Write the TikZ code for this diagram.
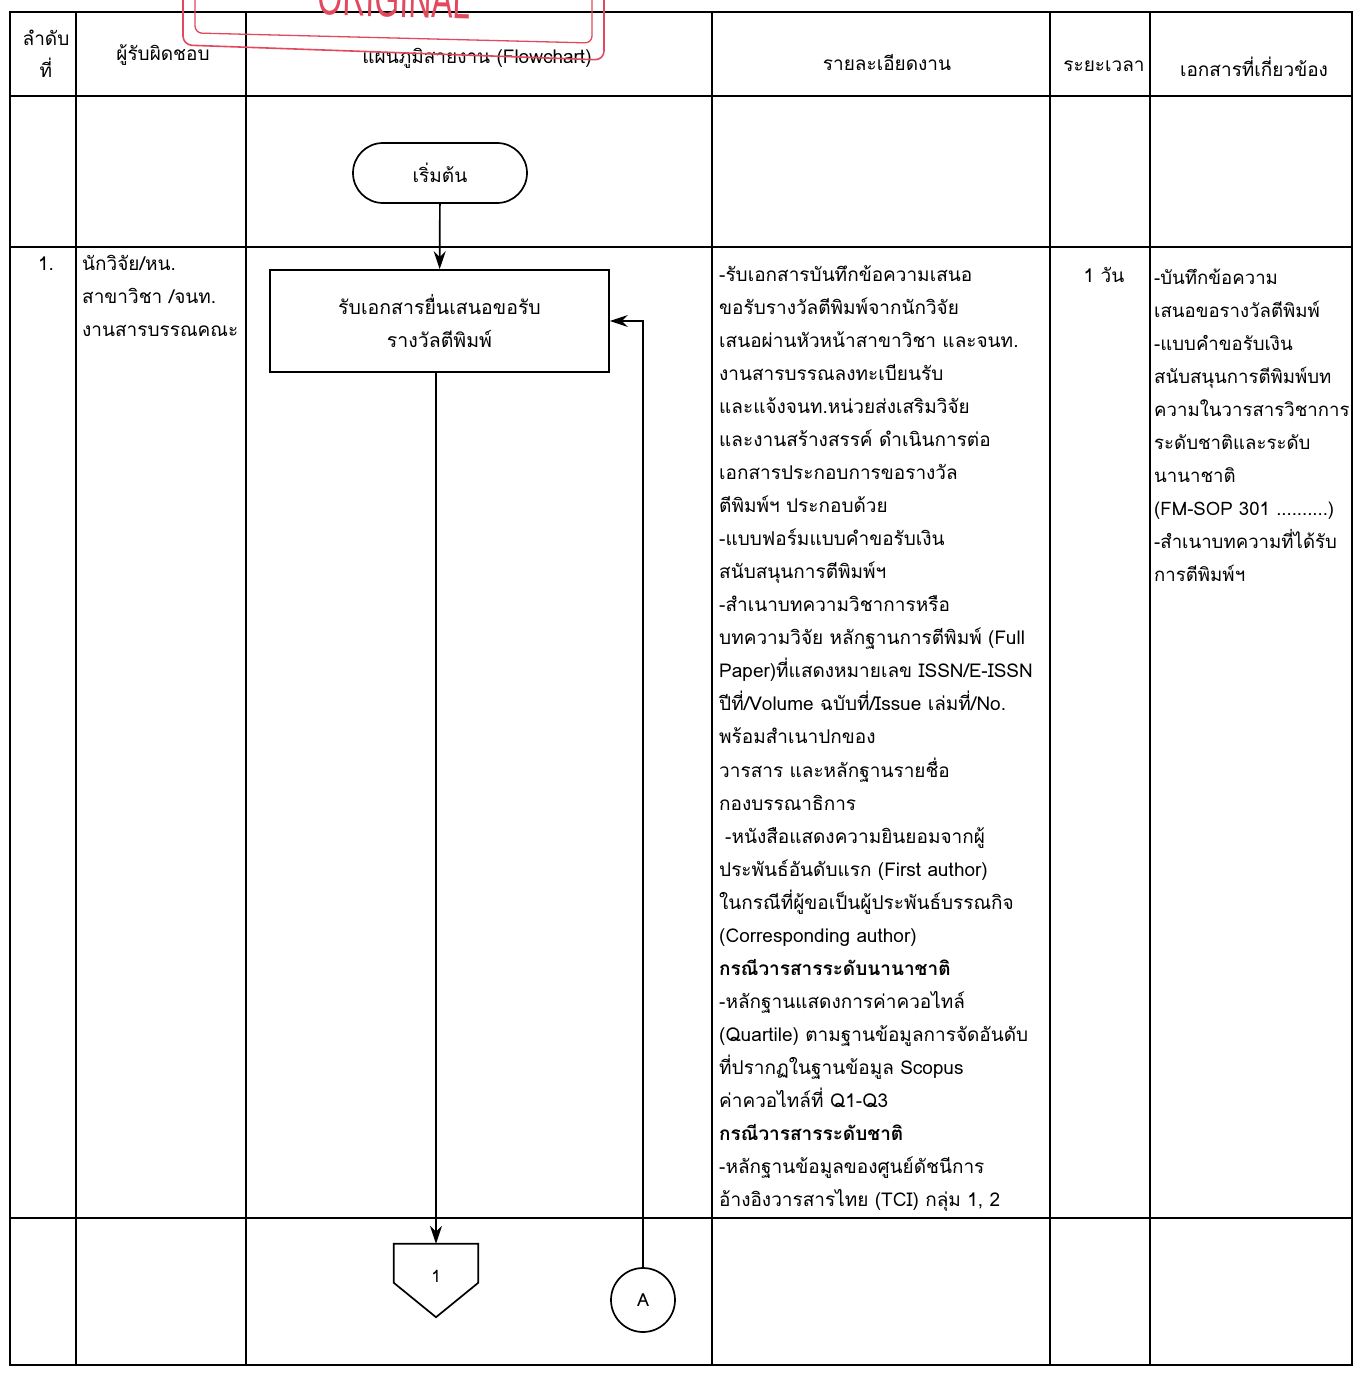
\documentclass[tikz,border=0pt]{standalone}
\usepackage{fontspec}
\newfontfamily\thai[Script=Thai]{Loma}
\newfontfamily\stampfont{Liberation Sans}
\usetikzlibrary{arrows.meta,shapes.misc,calc}
\definecolor{stampred}{RGB}{226,72,94}
\newcommand\fmsopref{(FM-SOP 301 ..........)}
\begin{document}
\begin{tikzpicture}[x=1pt,y=-1pt,
  grid/.style={line width=1.9pt},
  txt/.style={font=\thai\fontsize{19}{33}\selectfont, inner sep=0pt},
  doctxt/.style={font=\thai\fontsize{18.6}{33}\selectfont, inner sep=0pt},
  flow/.style={draw, line width=1.7pt, txt},
  conn/.style={line width=1.7pt, -{Stealth[length=18pt,width=12pt]}},
  stampline/.style={draw=stampred, line width=1.6pt},
]
\useasboundingbox (0,0) rectangle (1362,1378);
\fill[white] (0,0) rectangle (1362,1378);

% table grid
\draw[grid] (10,12) rectangle (1352,1365);
\foreach \x in {76,246,712,1050,1150} \draw[grid] (\x,12) -- (\x,1365);
\foreach \y in {96,247,1218} \draw[grid] (10,\y) -- (1352,\y);

% header
\node[txt] (h1a) at (46,38) {ลำดับ};
\node[txt] (h1b) at (46,68) {ที่};
\node[txt] (h2) at (163,55) {ผู้รับผิดชอบ};
\node[txt] (h3) at (477,58) {แผนภูมิสายงาน (Flowchart)};
\node[txt] (h4) at (887,63) {รายละเอียดงาน};
\node[txt] (h5) at (1104,66) {ระยะเวลา};
\node[txt] (h6) at (1254,67) {เอกสารที่เกี่ยวข้อง};

% row 1 left columns
\node[txt, anchor=base] (n1) at (46,270) {1.};
\node[txt, anchor=base west] (r1) at (82,270) {นักวิจัย/หน.};
\node[txt, anchor=base west] (r2) at (82,303) {สาขาวิชา /จนท.};
\node[txt, anchor=base west] (r3) at (82,336) {งานสารบรรณคณะ};

% details
\foreach \t [count=\i] in {
 {-รับเอกสารบันทึกข้อความเสนอ},
 {ขอรับรางวัลตีพิมพ์จากนักวิจัย},
 {เสนอผ่านหัวหน้าสาขาวิชา และจนท.},
 {งานสารบรรณลงทะเบียนรับ},
 {และแจ้งจนท.หน่วยส่งเสริมวิจัย},
 {และงานสร้างสรรค์ ดำเนินการต่อ},
 {เอกสารประกอบการขอรางวัล},
 {ตีพิมพ์ฯ ประกอบด้วย},
 {-แบบฟอร์มแบบคำขอรับเงิน},
 {สนับสนุนการตีพิมพ์ฯ},
 {-สำเนาบทความวิชาการหรือ},
 {บทความวิจัย หลักฐานการตีพิมพ์ (Full},
 {Paper)ที่แสดงหมายเลข ISSN/E-ISSN},
 {ปีที่/Volume ฉบับที่/Issue เล่มที่/No.},
 {พร้อมสำเนาปกของ},
 {วารสาร และหลักฐานรายชื่อ},
 {กองบรรณาธิการ},
 {\hspace*{6pt}-หนังสือแสดงความยินยอมจากผู้},
 {ประพันธ์อันดับแรก (First author)},
 {ในกรณีที่ผู้ขอเป็นผู้ประพันธ์บรรณกิจ},
 {(Corresponding author)},
 {\bfseries กรณีวารสารระดับนานาชาติ},
 {-หลักฐานแสดงการค่าควอไทล์},
 {(Quartile) ตามฐานข้อมูลการจัดอันดับ},
 {ที่ปรากฏในฐานข้อมูล Scopus},
 {ค่าควอไทล์ที่ Q1-Q3},
 {\bfseries กรณีวารสารระดับชาติ},
 {-หลักฐานข้อมูลของศูนย์ดัชนีการ},
 {อ้างอิงวารสารไทย (TCI) กลุ่ม 1, 2}}
 \node[txt, anchor=base west] (d\i) at (719,{281+(\i-1)*33.07}) {\t};

% time
\node[txt, anchor=base] (tm) at (1104,282) {1 วัน};

% documents
\foreach \t [count=\i] in {
 {-บันทึกข้อความ},
 {เสนอขอรางวัลตีพิมพ์},
 {-แบบคำขอรับเงิน},
 {สนับสนุนการตีพิมพ์บท},
 {ความในวารสารวิชาการ},
 {ระดับชาติและระดับ},
 {นานาชาติ},
 {\fmsopref},
 {-สำเนาบทความที่ได้รับ},
 {การตีพิมพ์ฯ}}
 \node[doctxt, anchor=base west] (e\i) at (1154,{284+(\i-1)*33.1}) {\t};

% flowchart
\node[flow, rounded rectangle, minimum width=174pt, minimum height=60pt] (start) at (440,173) {เริ่มต้น};
\node[flow, rectangle, minimum width=339pt, minimum height=102pt, align=center, font=\thai\fontsize{19.5}{33}\selectfont] (recv) at (439.5,321) {รับเอกสารยื่นเสนอขอรับ\\รางวัลตีพิมพ์};
\node[txt, minimum width=84pt, minimum height=73pt] (off1) at (436,1280.5) {};
\node[txt, font=\thai\fontsize{17}{17}\selectfont] (off1t) at (436,1276) {1};
\draw[line width=1.7pt] (off1.north west) -- (off1.north east) -- ($(off1.north east)+(0,39)$) -- (off1.south) -- ($(off1.north west)+(0,39)$) -- cycle;
\node[flow, circle, minimum size=64pt, font=\thai\fontsize{18}{18}\selectfont] (A) at (643,1300) {A};

\draw[conn] (start) -- (recv);
\draw[conn] (recv.south -| off1.north) -- (off1.north);
\draw[conn] (A.north) |- (recv.east);

% stamp
\begin{scope}
\clip (0,0) rectangle (1362,1378);
\draw[stampline, rounded corners=9pt] (183,-30) -- (183,45) -- (604,60) -- (604,-30);
\draw[stampline, line width=1.3pt, rounded corners=7pt] (195,-30) -- (195,33) -- (592,43) -- (592,-30);
\node[text=stampred, font=\stampfont\fontsize{32}{32}\selectfont, rotate=-1.5, anchor=base, inner sep=0pt] (stamp) at (394,17) {\scalebox{1}[1.7]{ORIGINAL}};
\end{scope}
\end{tikzpicture}
\end{document}
